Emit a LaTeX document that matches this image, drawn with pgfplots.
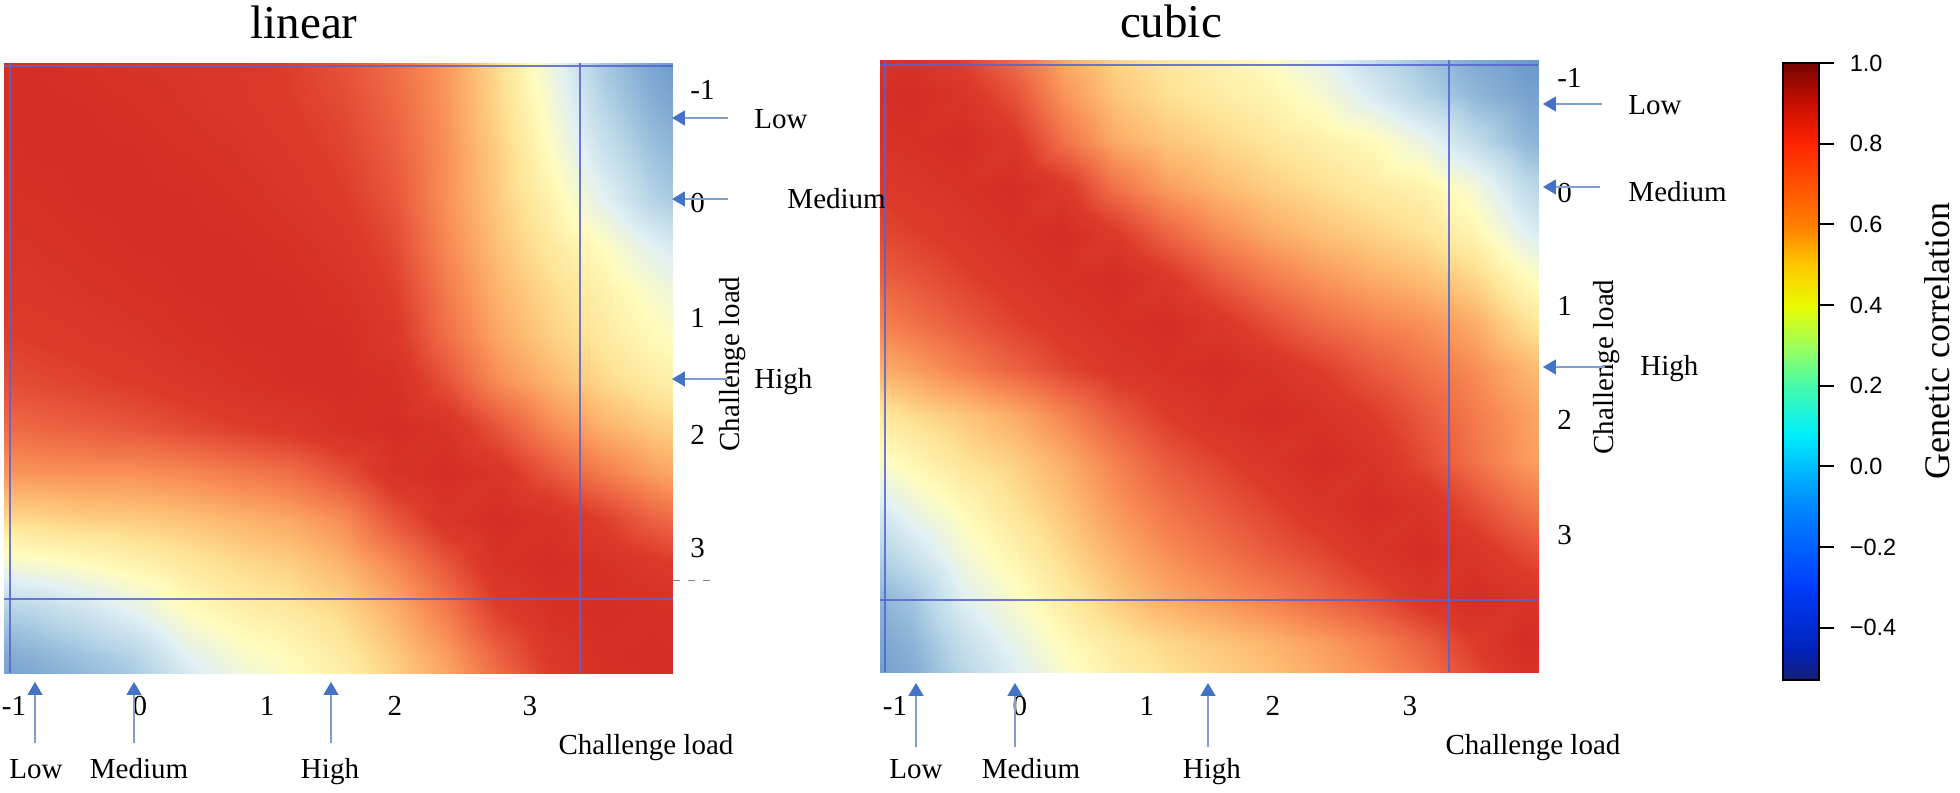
\documentclass[border=0pt]{standalone}
\usepackage{fontspec}
\setmainfont{Liberation Serif}
\newfontfamily\cbfont{Liberation Sans}
\usepackage{pgfplots}
\pgfplotsset{compat=1.18}
\usetikzlibrary{arrows.meta}

\definecolor{arrowhead}{RGB}{68,114,196}
\definecolor{arrowshaft}{RGB}{128,158,212}
\definecolor{frameblue}{RGB}{88,100,205}

\pgfplotsset{
  colormap={rdylbu}{
    rgb255(0cm)=(75,125,188) rgb255(1cm)=(100,148,200) rgb255(2cm)=(140,180,215)
    rgb255(3cm)=(185,215,232) rgb255(4cm)=(225,240,243) rgb255(5cm)=(255,252,190)
    rgb255(6cm)=(254,228,150) rgb255(7cm)=(253,185,112) rgb255(8cm)=(248,140,85)
    rgb255(9cm)=(236,98,64) rgb255(10cm)=(220,58,43) rgb255(11cm)=(213,45,38)},
  colormap={cbjet}{
    rgb255(0pt)=(20,30,120) rgb255(8pt)=(0,35,190) rgb255(23pt)=(0,60,250)
    rgb255(43pt)=(0,135,255) rgb255(53pt)=(0,190,255) rgb255(61pt)=(0,240,250)
    rgb255(73pt)=(70,250,170) rgb255(83pt)=(160,255,90) rgb255(93pt)=(235,250,0)
    rgb255(103pt)=(255,200,0) rgb255(113pt)=(255,125,0) rgb255(133pt)=(255,35,0)
    rgb255(143pt)=(200,15,0) rgb255(153pt)=(115,5,0)},
  heat/.style={anchor=north west, scale only axis, hide axis, view={0}{90},
    y dir=reverse, colormap name=rdylbu, point meta min=-0.1, point meta max=1},
}

\tikzset{
  lab/.style={font=\fontsize{11.6}{13}\selectfont, inner sep=0pt},
  ttl/.style={font=\fontsize{18.8}{22}\selectfont, inner sep=0pt},
  arr/.style={draw=arrowshaft, line width=0.7pt,
    -{Triangle[length=5.2pt,width=6pt,color=arrowhead]}},
  gridl/.style={draw=frameblue, line width=0.45pt, opacity=0.85},
}

\begin{document}
\begin{tikzpicture}
% 1 px of the reference = 0.4pt
\useasboundingbox (0pt,0pt) rectangle (784pt,-317.2pt);

% linear
\begin{axis}[heat, at={(1.6pt,-25.2pt)}, width=267.6pt, height=244pt,
  xmin=-1.05, xmax=4.1, ymin=-1.24, ymax=4.1]
\addplot3[surf, shader=interp, mesh/cols=15] coordinates {
(-1.25,-1.25,1.00) (-0.85,-1.25,0.99) (-0.45,-1.25,0.97) (-0.05,-1.25,0.95) (0.35,-1.25,0.94) (0.75,-1.25,0.92) (1.15,-1.25,0.89) (1.55,-1.25,0.84) (1.95,-1.25,0.77) (2.35,-1.25,0.67) (2.75,-1.25,0.52) (3.15,-1.25,0.34) (3.55,-1.25,0.16) (3.95,-1.25,0.05) (4.35,-1.25,-0.02)
(-1.25,-0.85,0.99) (-0.85,-0.85,1.00) (-0.45,-0.85,0.99) (-0.05,-0.85,0.97) (0.35,-0.85,0.95) (0.75,-0.85,0.93) (1.15,-0.85,0.90) (1.55,-0.85,0.86) (1.95,-0.85,0.79) (2.35,-0.85,0.68) (2.75,-0.85,0.53) (3.15,-0.85,0.37) (3.55,-0.85,0.20) (3.95,-0.85,0.09) (4.35,-0.85,0.02)
(-1.25,-0.45,0.97) (-0.85,-0.45,0.99) (-0.45,-0.45,1.00) (-0.05,-0.45,0.99) (0.35,-0.45,0.97) (0.75,-0.45,0.95) (1.15,-0.45,0.92) (1.55,-0.45,0.88) (1.95,-0.45,0.81) (2.35,-0.45,0.69) (2.75,-0.45,0.55) (3.15,-0.45,0.40) (3.55,-0.45,0.25) (3.95,-0.45,0.14) (4.35,-0.45,0.07)
(-1.25,-0.05,0.95) (-0.85,-0.05,0.97) (-0.45,-0.05,0.99) (-0.05,-0.05,1.00) (0.35,-0.05,0.99) (0.75,-0.05,0.97) (1.15,-0.05,0.94) (1.55,-0.05,0.90) (1.95,-0.05,0.83) (2.35,-0.05,0.69) (2.75,-0.05,0.56) (3.15,-0.05,0.44) (3.55,-0.05,0.31) (3.95,-0.05,0.19) (4.35,-0.05,0.12)
(-1.25,0.35,0.94) (-0.85,0.35,0.95) (-0.45,0.35,0.97) (-0.05,0.35,0.99) (0.35,0.35,1.00) (0.75,0.35,0.99) (1.15,0.35,0.97) (1.55,0.35,0.93) (1.95,0.35,0.86) (2.35,0.35,0.71) (2.75,0.35,0.58) (3.15,0.35,0.48) (3.55,0.35,0.40) (3.95,0.35,0.30) (4.35,0.35,0.23)
(-1.25,0.75,0.92) (-0.85,0.75,0.93) (-0.45,0.75,0.95) (-0.05,0.75,0.97) (0.35,0.75,0.99) (0.75,0.75,1.00) (1.15,0.75,0.99) (1.55,0.75,0.96) (1.95,0.75,0.89) (2.35,0.75,0.74) (2.75,0.75,0.61) (3.15,0.75,0.52) (3.55,0.75,0.45) (3.95,0.75,0.37) (4.35,0.75,0.31)
(-1.25,1.15,0.89) (-0.85,1.15,0.90) (-0.45,1.15,0.92) (-0.05,1.15,0.94) (0.35,1.15,0.97) (0.75,1.15,0.99) (1.15,1.15,1.00) (1.55,1.15,0.99) (1.95,1.15,0.92) (2.35,1.15,0.77) (2.75,1.15,0.64) (3.15,1.15,0.55) (3.55,1.15,0.48) (3.95,1.15,0.41) (4.35,1.15,0.37)
(-1.25,1.55,0.84) (-0.85,1.55,0.86) (-0.45,1.55,0.88) (-0.05,1.55,0.90) (0.35,1.55,0.93) (0.75,1.55,0.96) (1.15,1.55,0.99) (1.55,1.55,1.00) (1.95,1.55,0.97) (2.35,1.55,0.84) (2.75,1.55,0.70) (3.15,1.55,0.61) (3.55,1.55,0.53) (3.95,1.55,0.47) (4.35,1.55,0.43)
(-1.25,1.95,0.77) (-0.85,1.95,0.79) (-0.45,1.95,0.81) (-0.05,1.95,0.83) (0.35,1.95,0.86) (0.75,1.95,0.89) (1.15,1.95,0.92) (1.55,1.95,0.97) (1.95,1.95,1.00) (2.35,1.95,0.95) (2.75,1.95,0.83) (3.15,1.95,0.71) (3.55,1.95,0.62) (3.95,1.95,0.56) (4.35,1.95,0.52)
(-1.25,2.35,0.67) (-0.85,2.35,0.68) (-0.45,2.35,0.69) (-0.05,2.35,0.69) (0.35,2.35,0.71) (0.75,2.35,0.74) (1.15,2.35,0.77) (1.55,2.35,0.84) (1.95,2.35,0.95) (2.35,2.35,1.00) (2.75,2.35,0.94) (3.15,2.35,0.83) (3.55,2.35,0.74) (3.95,2.35,0.66) (4.35,2.35,0.61)
(-1.25,2.75,0.52) (-0.85,2.75,0.53) (-0.45,2.75,0.55) (-0.05,2.75,0.56) (0.35,2.75,0.58) (0.75,2.75,0.61) (1.15,2.75,0.64) (1.55,2.75,0.70) (1.95,2.75,0.83) (2.35,2.75,0.94) (2.75,2.75,1.00) (3.15,2.75,0.96) (3.55,2.75,0.89) (3.95,2.75,0.80) (4.35,2.75,0.74)
(-1.25,3.15,0.34) (-0.85,3.15,0.37) (-0.45,3.15,0.40) (-0.05,3.15,0.44) (0.35,3.15,0.48) (0.75,3.15,0.52) (1.15,3.15,0.55) (1.55,3.15,0.61) (1.95,3.15,0.71) (2.35,3.15,0.83) (2.75,3.15,0.96) (3.15,3.15,1.00) (3.55,3.15,0.97) (3.95,3.15,0.92) (4.35,3.15,0.88)
(-1.25,3.55,0.16) (-0.85,3.55,0.20) (-0.45,3.55,0.25) (-0.05,3.55,0.31) (0.35,3.55,0.40) (0.75,3.55,0.45) (1.15,3.55,0.48) (1.55,3.55,0.53) (1.95,3.55,0.62) (2.35,3.55,0.74) (2.75,3.55,0.89) (3.15,3.55,0.97) (3.55,3.55,1.00) (3.95,3.55,0.98) (4.35,3.55,0.95)
(-1.25,3.95,0.05) (-0.85,3.95,0.09) (-0.45,3.95,0.14) (-0.05,3.95,0.19) (0.35,3.95,0.30) (0.75,3.95,0.37) (1.15,3.95,0.41) (1.55,3.95,0.47) (1.95,3.95,0.56) (2.35,3.95,0.66) (2.75,3.95,0.80) (3.15,3.95,0.92) (3.55,3.95,0.98) (3.95,3.95,1.00) (4.35,3.95,0.99)
(-1.25,4.35,-0.02) (-0.85,4.35,0.02) (-0.45,4.35,0.07) (-0.05,4.35,0.12) (0.35,4.35,0.23) (0.75,4.35,0.31) (1.15,4.35,0.37) (1.55,4.35,0.43) (1.95,4.35,0.52) (2.35,4.35,0.61) (2.75,4.35,0.74) (3.15,4.35,0.88) (3.55,4.35,0.95) (3.95,4.35,0.99) (4.35,4.35,1.00)
};
\end{axis}

% cubic
\begin{axis}[heat, at={(352pt,-24pt)}, width=263.2pt, height=244.8pt,
  xmin=-1.1, xmax=4.05, ymin=-1.16, ymax=4.2]
\addplot3[surf, shader=interp, mesh/cols=15] coordinates {
(-1.25,-1.25,1.00) (-0.85,-1.25,0.95) (-0.45,-1.25,0.87) (-0.05,-1.25,0.76) (0.35,-1.25,0.62) (0.75,-1.25,0.53) (1.15,-1.25,0.48) (1.55,-1.25,0.43) (1.95,-1.25,0.39) (2.35,-1.25,0.31) (2.75,-1.25,0.21) (3.15,-1.25,0.13) (3.55,-1.25,0.06) (3.95,-1.25,0.01) (4.35,-1.25,-0.02)
(-1.25,-0.85,0.97) (-0.85,-0.85,1.00) (-0.45,-0.85,0.94) (-0.05,-0.85,0.84) (0.35,-0.85,0.68) (0.75,-0.85,0.57) (1.15,-0.85,0.51) (1.55,-0.85,0.47) (1.95,-0.85,0.43) (2.35,-0.85,0.37) (2.75,-0.85,0.28) (3.15,-0.85,0.19) (3.55,-0.85,0.11) (3.95,-0.85,0.05) (4.35,-0.85,0.02)
(-1.25,-0.45,0.95) (-0.85,-0.45,0.97) (-0.45,-0.45,1.00) (-0.05,-0.45,0.92) (0.35,-0.45,0.76) (0.75,-0.45,0.63) (1.15,-0.45,0.57) (1.55,-0.45,0.53) (1.95,-0.45,0.49) (2.35,-0.45,0.45) (2.75,-0.45,0.41) (3.15,-0.45,0.33) (3.55,-0.45,0.22) (3.95,-0.45,0.11) (4.35,-0.45,0.06)
(-1.25,-0.05,0.90) (-0.85,-0.05,0.93) (-0.45,-0.05,0.96) (-0.05,-0.05,1.00) (0.35,-0.05,0.91) (0.75,-0.05,0.76) (1.15,-0.05,0.66) (1.55,-0.05,0.60) (1.95,-0.05,0.55) (2.35,-0.05,0.51) (2.75,-0.05,0.47) (3.15,-0.05,0.44) (3.55,-0.05,0.36) (3.95,-0.05,0.22) (4.35,-0.05,0.14)
(-1.25,0.35,0.85) (-0.85,0.35,0.89) (-0.45,0.35,0.93) (-0.05,0.35,0.97) (0.35,0.35,1.00) (0.75,0.35,0.90) (1.15,0.35,0.79) (1.55,0.35,0.70) (1.95,0.35,0.63) (2.35,0.35,0.58) (2.75,0.35,0.54) (3.15,0.35,0.50) (3.55,0.35,0.43) (3.95,0.35,0.30) (4.35,0.35,0.22)
(-1.25,0.75,0.79) (-0.85,0.75,0.83) (-0.45,0.75,0.88) (-0.05,0.75,0.93) (0.35,0.75,0.97) (0.75,0.75,1.00) (1.15,0.75,0.92) (1.55,0.75,0.82) (1.95,0.75,0.74) (2.35,0.75,0.68) (2.75,0.75,0.63) (3.15,0.75,0.59) (3.55,0.75,0.53) (3.95,0.75,0.41) (4.35,0.75,0.33)
(-1.25,1.15,0.70) (-0.85,1.15,0.76) (-0.45,1.15,0.82) (-0.05,1.15,0.88) (0.35,1.15,0.93) (0.75,1.15,0.97) (1.15,1.15,1.00) (1.55,1.15,0.93) (1.95,1.15,0.85) (2.35,1.15,0.78) (2.75,1.15,0.73) (3.15,1.15,0.69) (3.55,1.15,0.63) (3.95,1.15,0.51) (4.35,1.15,0.44)
(-1.25,1.55,0.60) (-0.85,1.55,0.66) (-0.45,1.55,0.73) (-0.05,1.55,0.80) (0.35,1.55,0.87) (0.75,1.55,0.93) (1.15,1.55,0.97) (1.55,1.55,1.00) (1.95,1.55,0.95) (2.35,1.55,0.89) (2.75,1.55,0.82) (3.15,1.55,0.76) (3.55,1.55,0.70) (3.95,1.55,0.61) (4.35,1.55,0.55)
(-1.25,1.95,0.46) (-0.85,1.95,0.52) (-0.45,1.95,0.57) (-0.05,1.95,0.63) (0.35,1.95,0.72) (0.75,1.95,0.82) (1.15,1.95,0.90) (1.55,1.95,0.96) (1.95,1.95,1.00) (2.35,1.95,0.96) (2.75,1.95,0.90) (3.15,1.95,0.82) (3.55,1.95,0.74) (3.95,1.95,0.66) (4.35,1.95,0.60)
(-1.25,2.35,0.36) (-0.85,2.35,0.43) (-0.45,2.35,0.50) (-0.05,2.35,0.55) (0.35,2.35,0.63) (0.75,2.35,0.73) (1.15,2.35,0.82) (1.55,2.35,0.88) (1.95,2.35,0.94) (2.35,2.35,1.00) (2.75,2.35,0.95) (3.15,2.35,0.86) (3.55,2.35,0.76) (3.95,2.35,0.67) (4.35,2.35,0.62)
(-1.25,2.75,0.25) (-0.85,2.75,0.34) (-0.45,2.75,0.42) (-0.05,2.75,0.50) (0.35,2.75,0.58) (0.75,2.75,0.68) (1.15,2.75,0.76) (1.55,2.75,0.82) (1.95,2.75,0.88) (2.35,2.75,0.94) (2.75,2.75,1.00) (3.15,2.75,0.95) (3.55,2.75,0.85) (3.95,2.75,0.76) (4.35,2.75,0.70)
(-1.25,3.15,0.15) (-0.85,3.15,0.25) (-0.45,3.15,0.36) (-0.05,3.15,0.44) (0.35,3.15,0.53) (0.75,3.15,0.62) (1.15,3.15,0.70) (1.55,3.15,0.76) (1.95,3.15,0.82) (2.35,3.15,0.87) (2.75,3.15,0.94) (3.15,3.15,1.00) (3.55,3.15,0.94) (3.95,3.15,0.86) (4.35,3.15,0.80)
(-1.25,3.55,0.07) (-0.85,3.55,0.15) (-0.45,3.55,0.30) (-0.05,3.55,0.38) (0.35,3.55,0.47) (0.75,3.55,0.56) (1.15,3.55,0.63) (1.55,3.55,0.68) (1.95,3.55,0.73) (2.35,3.55,0.79) (2.75,3.55,0.85) (3.15,3.55,0.93) (3.55,3.55,1.00) (3.95,3.55,0.95) (4.35,3.55,0.90)
(-1.25,3.95,0.03) (-0.85,3.95,0.10) (-0.45,3.95,0.23) (-0.05,3.95,0.32) (0.35,3.95,0.41) (0.75,3.95,0.48) (1.15,3.95,0.53) (1.55,3.95,0.57) (1.95,3.95,0.61) (2.35,3.95,0.66) (2.75,3.95,0.72) (3.15,3.95,0.80) (3.55,3.95,0.90) (3.95,3.95,1.00) (4.35,3.95,0.96)
(-1.25,4.35,0.00) (-0.85,4.35,0.06) (-0.45,4.35,0.18) (-0.05,4.35,0.27) (0.35,4.35,0.36) (0.75,4.35,0.44) (1.15,4.35,0.49) (1.55,4.35,0.53) (1.95,4.35,0.57) (2.35,4.35,0.62) (2.75,4.35,0.67) (3.15,4.35,0.74) (3.55,4.35,0.84) (3.95,4.35,0.94) (4.35,4.35,1.00)
};
\end{axis}

% colour bar
\begin{axis}[at={(704.8pt,-25.2pt)}, anchor=north west, scale only axis,
  width=14.4pt, height=246.8pt, hide axis,
  xmin=0, xmax=1, ymin=0, ymax=1,
  colormap name=cbjet, point meta min=-0.53, point meta max=1,
  colorbar, colorbar/width=14.4pt,
  colorbar style={at={(parent axis.north west)}, anchor=north west, xshift=0pt,
    height=246.8pt,
    ytick={-0.4,-0.2,0,0.2,0.4,0.6,0.8,1},
    yticklabels={−0.4,−0.2,0.0,0.2,0.4,0.6,0.8,1.0},
    yticklabel style={font=\cbfont\fontsize{9.4}{11}\selectfont,
      anchor=west, inner sep=0pt, xshift=6pt},
    ytick pos=right, tick align=outside, major tick length=6pt,
    ytick style={draw=black, line width=0.8pt},
    axis line style={draw=black, line width=0.9pt}}]
\addplot[draw=none] coordinates {(0.5,0.5)};
\end{axis}

\begin{scope}[x=0.4pt,y=-0.4pt]
% thin blue frame lines seen in both panels
\draw[gridl] (4,66) -- (673,66);
\draw[gridl] (10,63) -- (10,673);
\draw[gridl] (4,599) -- (673,599);
\draw[gridl] (580,63) -- (580,673);
\draw[gray, line width=0.4pt, dashed] (673,581) -- (712,581);
\draw[gridl] (880,65) -- (1538,65);
\draw[gridl] (885,60) -- (885,672);
\draw[gridl] (880,600) -- (1538,600);
\draw[gridl] (1449,60) -- (1449,672);

% titles
\node[ttl, anchor=base] at (304,39) {linear};
\node[ttl, anchor=base] at (1171,38) {cubic};

% linear: tick labels
\foreach \t/\yy in {-1/100, 0/213, 1/328, 2/445, 3/558}
  \node[lab, anchor=base west] at (690,\yy) {\t};
\foreach \t/\xx in {-1/14, 0/140, 1/267, 2/395, 3/530}
  \node[lab, anchor=base] at (\xx,716) {\t};
\node[lab, anchor=base] at (646,755) {Challenge load};
\node[lab, rotate=90] at (733,364) {Challenge load};
% linear: markers
\draw[arr] (728,118) -- (672,118);
\draw[arr] (728,199) -- (672,199);
\draw[arr] (728,379) -- (672,379);
\node[lab, anchor=base west] at (754,129) {Low};
\node[lab, anchor=base west] at (787,209) {Medium};
\node[lab, anchor=base west] at (754,389) {High};
\draw[arr] (35,743) -- (35,682);
\draw[arr] (134,743) -- (134,682);
\draw[arr] (331,743) -- (331,682);
\node[lab, anchor=base] at (36,779) {Low};
\node[lab, anchor=base] at (139,779) {Medium};
\node[lab, anchor=base] at (330,779) {High};

% cubic: tick labels
\foreach \t/\yy in {-1/88, 0/203, 1/316, 2/430, 3/545}
  \node[lab, anchor=base west] at (1557,\yy) {\t};
\foreach \t/\xx in {-1/895, 0/1020, 1/1147, 2/1273, 3/1410}
  \node[lab, anchor=base] at (\xx,716) {\t};
\node[lab, anchor=base] at (1533,755) {Challenge load};
\node[lab, rotate=90] at (1607,367) {Challenge load};
% cubic: markers
\draw[arr] (1602,104) -- (1543,104);
\draw[arr] (1600,187) -- (1543,187);
\draw[arr] (1605,367) -- (1543,367);
\node[lab, anchor=base west] at (1628,115) {Low};
\node[lab, anchor=base west] at (1628,202) {Medium};
\node[lab, anchor=base west] at (1640,376) {High};
\draw[arr] (916,747) -- (916,683);
\draw[arr] (1015,747) -- (1015,683);
\draw[arr] (1208,747) -- (1208,683);
\node[lab, anchor=base] at (916,779) {Low};
\node[lab, anchor=base] at (1031,779) {Medium};
\node[lab, anchor=base] at (1212,779) {High};

% colour bar label
\node[font=\fontsize{14.4}{16}\selectfont, inner sep=0pt, rotate=90] at (1937,341) {Genetic correlation};
\end{scope}
\end{tikzpicture}
\end{document}
